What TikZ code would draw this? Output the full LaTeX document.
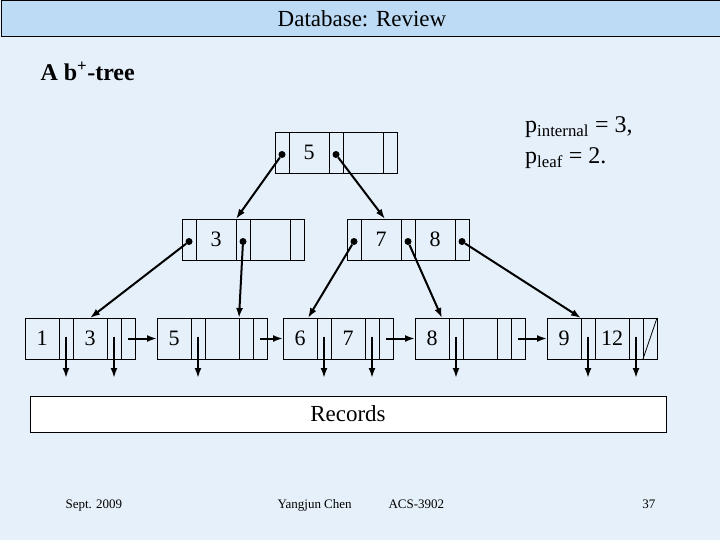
\documentclass[tikz,border=0pt]{standalone}
\usepackage{fontspec}
\setmainfont{Liberation Serif}
\usetikzlibrary{positioning,arrows.meta}
\definecolor{bgblue}{RGB}{230,240,250}
\definecolor{barblue}{RGB}{189,219,245}
% internal node: name, x, y, key 1, key 2
\newcommand{\innode}[5]{
  \node[ptrcell, anchor=north west] (#1-p0) at (#2,#3) {};
  \node[keycell, right=0pt of #1-p0] (#1-k1) {#4};
  \node[ptrcell, right=0pt of #1-k1] (#1-p1) {};
  \node[keycell, right=0pt of #1-p1] (#1-k2) {#5};
  \node[ptrcell, right=0pt of #1-k2] (#1-p2) {};
}
% leaf node: name, x, y, key 1, key 2
\newcommand{\leafnode}[5]{
  \node[leafkey, anchor=north west] (#1-k1) at (#2,#3) {#4};
  \node[ptrcell, right=0pt of #1-k1] (#1-p1) {};
  \node[leafkey, right=0pt of #1-p1] (#1-k2) {#5};
  \node[ptrcell, right=0pt of #1-k2] (#1-p2) {};
  \node[ptrcell, right=0pt of #1-p2] (#1-p3) {};
}
\begin{document}
\begin{tikzpicture}[x=1pt,y=-1pt,
  cell/.style={draw, line width=0.8pt, minimum height=41pt, inner sep=0pt, outer sep=0pt, font=\fontsize{22}{26}\selectfont},
  ptrcell/.style={cell, minimum width=14pt},
  keycell/.style={cell, minimum width=40pt},
  leafkey/.style={cell, minimum width=34pt},
  dot/.style={circle, fill, inner sep=0pt, minimum size=7pt},
  ptr/.style={line width=2pt, -{Latex[length=10pt,width=7pt]}},
  foot/.style={anchor=base west, font=\fontsize{13}{15}\selectfont}]
  \useasboundingbox (0,0) rectangle (720,540);
  \fill[bgblue] (0,0) rectangle (720,540);
  \node[draw, line width=1pt, fill=barblue, anchor=north west, minimum width=722pt, minimum height=35.5pt, inner sep=0pt,
        font=\fontsize{23}{27}\selectfont] (title) at (0.5,0.5) {Database: Review};
  \node[anchor=base west, font=\fontsize{24}{28}\selectfont\bfseries] (head) at (37,81) {A b\textsuperscript{+}-tree};
  \node[anchor=base west, inner sep=0pt, font=\fontsize{24}{28}\selectfont] (pint) at (525,133) {p\textsubscript{internal} = 3,};
  \node[anchor=base west, inner sep=0pt, font=\fontsize{24}{28}\selectfont] (pleaf) at (525,164) {p\textsubscript{leaf} = 2.};

  % the tree
  \innode{rt}{275}{132}{5}{}
  \innode{ln}{182}{219}{3}{}
  \innode{rn}{347}{219}{7}{8}
  \leafnode{l1}{25}{318}{1}{3}
  \leafnode{l2}{157}{318}{5}{}
  \leafnode{l3}{283}{318}{6}{7}
  \leafnode{l4}{415}{318}{8}{}
  \leafnode{l5}{547}{318}{9}{12}
  \draw[line width=0.8pt] (l5-p3.south west) -- (l5-p3.north east);

  \foreach \n in {rt-p0,rt-p1,ln-p0,ln-p1,rn-p0,rn-p1,rn-p2}
    \node[dot] (\n-d) at ([yshift=-2pt]\n.center) {};
  \draw[ptr] (rt-p0-d) -- (ln-k1.north east);
  \draw[ptr] (rt-p1-d) -- ([xshift=4pt]rn-k1.north);
  \draw[ptr] (ln-p0-d) -- (l1-k2.north);
  \draw[ptr] (ln-p1-d) -- (l2-k2.north east);
  \draw[ptr] (rn-p0-d) -- ([xshift=8pt]l3-k1.north);
  \draw[ptr] (rn-p1-d) -- ([xshift=10pt]l4-k1.north);
  \draw[ptr] (rn-p2-d) -- (l5-k1.north east);

  \foreach \pa/\pb in {l1/l2,l2/l3,l3/l4,l4/l5}
    \draw[ptr] (\pa-p3.center) -- (\pb-k1.west);

  % pointers to the records
  \coordinate (dataend) at (0,378);
  \foreach \c in {l1-p1,l1-p2,l2-p1,l3-p1,l3-p2,l4-p1,l5-p1,l5-p2}
    \draw[ptr] ([yshift=2pt]\c.center) -- (\c.center |- dataend);
  \node[draw, line width=1pt, fill=white, minimum width=636pt, minimum height=36pt, inner sep=0pt,
        font=\fontsize{23}{27}\selectfont] (rec) at (348,414) {Records};

  \node[foot] (date) at (62,508) {Sept. 2009};
  \node[foot] (author) at (274,508) {Yangjun Chen};
  \node[foot] (course) at (385,508) {ACS-3902};
  \node[foot, anchor=base east] (page) at (659,508) {37};
\end{tikzpicture}
\end{document}
